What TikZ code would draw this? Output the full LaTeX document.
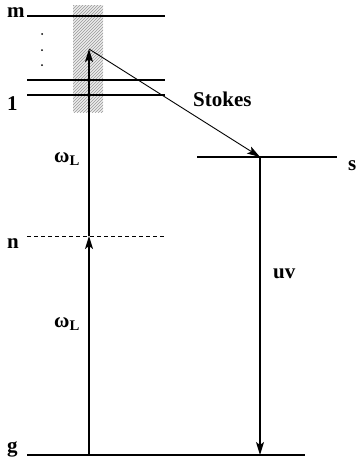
\documentclass[tikz,border=0pt]{standalone}
\usepackage{fontspec}
\setmainfont{Liberation Serif}
\usetikzlibrary{arrows.meta,patterns}

\tikzset{
  level/.style={
    line width = 2pt
  },
  virt/.style={
    line width = 0.8pt,
    dash pattern = on 4pt off 3pt
  },
  photon/.style={
    line width = 1.5pt,
    -{Stealth[length=13pt,width=8pt,inset=3pt]}
  },
  scatter/.style={
    line width = 0.9pt,
    -{Stealth[length=13pt,width=8pt,inset=3pt]}
  },
  lbl/.style={
    anchor = base west,
    font = \fontsize{21}{25}\selectfont\bfseries,
    inner sep = 0pt
  }
}

\begin{document}
\begin{tikzpicture}[x=1pt,y=-1pt]
    \useasboundingbox (0,0) rectangle (357,463);

    % virtual band
    \fill[gray!15] (73,5) rectangle (103,112);
    \fill[pattern=north east lines, pattern color=gray!80] (73,5) rectangle (103,112);

    % levels
    \draw[level] (27,16) -- (165,16);
    \draw[level] (27,80) -- (165,80);
    \draw[level] (27,95) -- (165,95);
    \draw[virt] (27,236) -- (165,236);
    \draw[level] (197,157) -- (337,157);
    \draw[level] (27,455) -- (305,455);

    \foreach \y in {34,50,65} {
        \fill (42,\y) circle (1pt);
    }

    \coordinate (g) at (89,455);
    \coordinate (n) at (89,236);
    \coordinate (top) at (89,49);
    \coordinate (s) at (260,157);
    \coordinate (sg) at (260,455);

    % transitions
    \draw[photon] (g) -- (n);
    \draw[photon] (n) -- (top);
    \draw[scatter] (top) -- (s);
    \draw[photon] (s) -- (sg);

    % labels
    \node[lbl] (lm) at (7,17) {m};
    \node[lbl] (l1) at (7,110) {1};
    \node[lbl] (ln) at (7,248) {n};
    \node[lbl] (lg) at (7,452) {g};
    \node[lbl] (ls) at (348,170) {s};
    \node[lbl] (stokes) at (193,106) {Stokes};
    \node[lbl] (wup) at (54,162) {ω\textsubscript{L}};
    \node[lbl] (wlo) at (54,327) {ω\textsubscript{L}};
    \node[lbl] (uv) at (273,278) {uv};
\end{tikzpicture}
\end{document}
